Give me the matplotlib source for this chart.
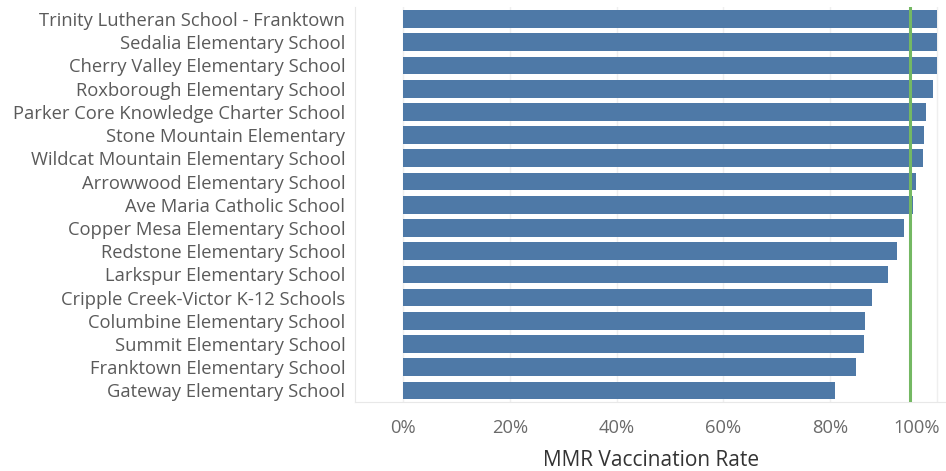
import matplotlib.pyplot as plt
from matplotlib.ticker import FuncFormatter
import matplotlib.transforms as mtransforms

schools = [
    "Trinity Lutheran School - Franktown",
    "Sedalia Elementary School",
    "Cherry Valley Elementary School",
    "Roxborough Elementary School",
    "Parker Core Knowledge Charter School",
    "Stone Mountain Elementary",
    "Wildcat Mountain Elementary School",
    "Arrowwood Elementary School",
    "Ave Maria Catholic School",
    "Copper Mesa Elementary School",
    "Redstone Elementary School",
    "Larkspur Elementary School",
    "Cripple Creek-Victor K-12 Schools",
    "Columbine Elementary School",
    "Summit Elementary School",
    "Franktown Elementary School",
    "Gateway Elementary School",
]
mmr_rate = [100.0, 100.0, 100.0, 99.3, 97.9, 97.5, 97.3, 96.1, 95.5,
            93.8, 92.5, 90.8, 87.8, 86.5, 86.3, 84.8, 80.9]
herd_line = 95.0
ticks = [0, 20, 40, 60, 80, 100]

plt.rcParams['font.family'] = ['Open Sans', 'DejaVu Sans']

fig = plt.figure(figsize=(9.46, 4.71), dpi=100)
ax = fig.add_axes([355 / 946, 1 - 402 / 471, 591 / 946, 395 / 471])

y = list(range(len(schools)))
ax.barh(y, mmr_rate, height=0.76, color='#4e79a7', zorder=2)
ax.axvline(herd_line, color='#74b863', lw=2.2, zorder=3)

ax.set_xlim(-9.0, 101.7)
ax.set_ylim(16.5, -0.52)
ax.set_yticks(y)
ax.set_yticklabels(schools, fontsize=13.2, color='#5a5a5a')
ax.set_xticks(ticks)
ax.xaxis.set_major_formatter(FuncFormatter(lambda v, p: '%d%%' % v))
ax.tick_params(axis='x', length=0, labelsize=13.2, labelcolor='#6a6a6a', pad=12)
ax.tick_params(axis='y', length=0, pad=7)
ax.grid(axis='x', color='#efefef', lw=1, zorder=0)

# last tick label pushed inside the figure like in the original
last = ax.get_xticklabels()[-1]
last.set_transform(last.get_transform() + mtransforms.ScaledTranslation(-20 / 100, 0, fig.dpi_scale_trans))

for s in ['top', 'right']:
    ax.spines[s].set_visible(False)
for s in ['left', 'bottom']:
    ax.spines[s].set_color('#e8e8e8')

fig.text(651 / 946, 1 - 465.5 / 471, 'MMR Vaccination Rate', fontsize=15,
         color='#333333', ha='center', va='baseline')

fig.savefig('out.png', dpi=100)
